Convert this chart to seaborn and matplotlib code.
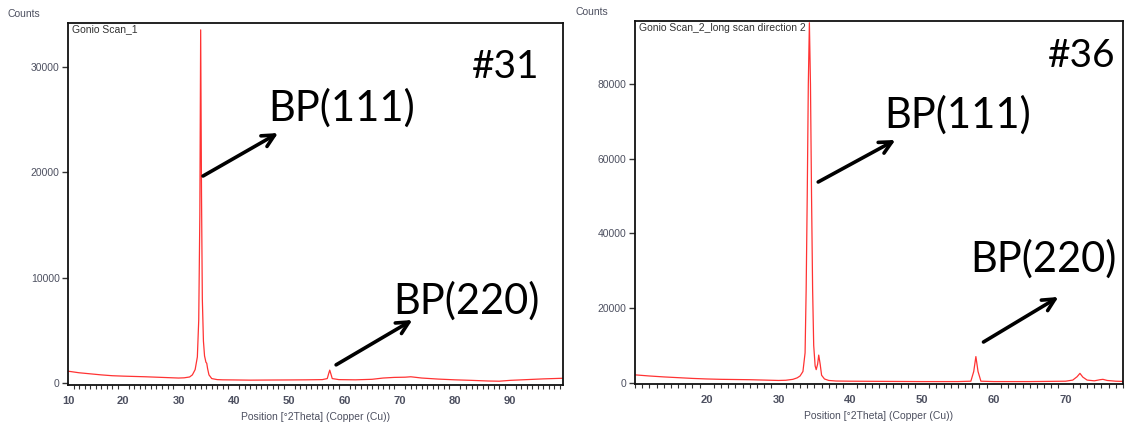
import matplotlib
matplotlib.use("Agg")
import matplotlib.pyplot as plt
from matplotlib.ticker import MultipleLocator, FixedLocator
import seaborn as sns
import pandas as pd

# ---------------- data ----------------
# Panel 1: Gonio Scan_1 (#31)
theta_31 = [10, 12, 14, 16, 18, 20, 22, 24, 26, 28, 30, 31, 32, 32.5, 33.0, 33.4,
            33.65, 33.85, 34.0, 34.15, 34.3, 34.5, 34.7, 34.95, 35.1, 35.25, 35.5,
            36.0, 37, 38, 40, 43, 46, 50, 53, 56, 56.9, 57.2, 57.35, 57.55, 57.8,
            59, 62, 65, 67, 69, 71, 72, 74, 77, 80, 83, 86, 88, 90, 93, 96, 99.6]
counts_31 = [1150, 1000, 900, 800, 720, 680, 650, 620, 580, 540, 500, 520, 600, 800,
             1300, 2500, 6000, 16000, 33500, 18000, 8000, 4000, 2600, 2000, 1900,
             1400, 800, 450, 350, 330, 320, 300, 310, 320, 330, 350, 450, 1000, 1250,
             900, 450, 350, 330, 380, 500, 560, 580, 620, 500, 400, 330, 280, 220,
             200, 280, 350, 420, 480]

# Panel 2: Gonio Scan_2_long scan direction 2 (#36)
theta_36 = [10, 12, 14, 16, 18, 20, 22, 24, 26, 28, 30, 31, 32, 32.6, 33.0, 33.4,
            33.7, 33.85, 34.0, 34.15, 34.3, 34.45, 34.6, 34.75, 34.9, 35.1, 35.25,
            35.45, 35.6, 35.8, 36.0, 36.4, 37, 38, 40, 45, 50, 55, 56.8, 57.2, 57.5,
            57.8, 58.2, 60, 65, 70, 71, 71.6, 72.0, 72.4, 73, 74, 74.8, 75.2, 75.8,
            77, 78]
counts_36 = [2100, 1800, 1550, 1350, 1150, 1000, 900, 850, 800, 700, 600, 650, 900,
             1300, 1800, 3000, 8000, 25000, 50000, 80000, 96500, 80000, 50000, 25000,
             10000, 4500, 3500, 5000, 7400, 5000, 2000, 1000, 600, 450, 400, 350, 300,
             300, 400, 3000, 7000, 3000, 400, 300, 300, 400, 700, 1600, 2500, 1500,
             700, 500, 800, 900, 600, 400, 350]

titles = ["Gonio Scan_1", "Gonio Scan_2_long scan direction 2"]
sample_ids = ["#31", "#36"]
peak_labels = ["BP(111)", "BP(220)"]
xlabel = "Position [°2Theta] (Copper (Cu))"
ylabel = "Counts"

yticks_31 = [0, 10000, 20000, 30000]
yticks_36 = [0, 20000, 40000, 60000, 80000]
xticks_31 = [10, 20, 30, 40, 50, 60, 70, 80, 90]
xticks_36 = [20, 30, 40, 50, 60, 70]

# ---------------- styling ----------------
sns.set_theme(style="white")
plt.rcParams["font.family"] = ["Liberation Sans", "DejaVu Sans"]

LINE = "#ff3333"
TICKC = "#4d5060"
BIG_FONT = ["Lato", "DejaVu Sans"]

fig = plt.figure(figsize=(11.25, 4.32), dpi=100)
ax1 = fig.add_axes([68 / 1125, (432 - 385) / 432, (563.3 - 68) / 1125, (385 - 22.7) / 432])
ax2 = fig.add_axes([635 / 1125, (432 - 384) / 432, (1123 - 635) / 1125, (384 - 20.7) / 432])

df31 = pd.DataFrame({"theta": theta_31, "counts": counts_31})
df36 = pd.DataFrame({"theta": theta_36, "counts": counts_36})
sns.lineplot(data=df31, x="theta", y="counts", ax=ax1, color=LINE, linewidth=0.9,
             estimator=None, sort=False)
sns.lineplot(data=df36, x="theta", y="counts", ax=ax2, color=LINE, linewidth=0.9,
             estimator=None, sort=False)

ax1.set_xlim(10, 99.6)
ax1.set_ylim(-160, 34180)
ax2.set_xlim(10, 78)
ax2.set_ylim(-350, 97050)

for ax, xt, yt, title in [(ax1, xticks_31, yticks_31, titles[0]),
                          (ax2, xticks_36, yticks_36, titles[1])]:
    ax.set_xlabel(xlabel, fontsize=7.5, color=TICKC, labelpad=4)
    ax.set_ylabel("")
    ax.xaxis.set_major_locator(FixedLocator(xt))
    ax.xaxis.set_minor_locator(MultipleLocator(1))
    ax.yaxis.set_major_locator(FixedLocator(yt))
    ax.tick_params(axis="x", which="major", direction="out", length=6, width=1,
                   color="#333333", labelsize=8, labelcolor=TICKC, pad=2)
    ax.tick_params(axis="x", which="minor", direction="out", length=3, width=0.8,
                   color="#333333", bottom=True)
    ax.tick_params(axis="y", which="major", direction="out", length=4, width=1,
                   color="#333333", labelsize=7.5, labelcolor=TICKC, pad=2, left=True)
    for lbl in ax.get_xticklabels():
        lbl.set_fontweight("bold")
    for s in ax.spines.values():
        s.set_color("#111111")
        s.set_linewidth(1.3)
    ax.text(0.008, 0.995, title, transform=ax.transAxes, ha="left", va="top",
            fontsize=7.5, color="#333333")

fig.text(8 / 1125, 1 - 14.3 / 432, ylabel, ha="left", va="center", fontsize=7.5, color=TICKC)
fig.text(575 / 1125, 1 - 11.7 / 432, ylabel, ha="left", va="center", fontsize=7.5, color=TICKC)

# big annotations
txt_kw = dict(fontsize=30, color="black", family=BIG_FONT, ha="left", va="baseline")
ax1.text(46.2, 24860, peak_labels[0], **txt_kw)
ax1.text(68.8, 6570, peak_labels[1], **txt_kw)
ax1.text(83.1, 28940, sample_ids[0], **dict(txt_kw, fontsize=28))
ax2.text(44.74, 68280, peak_labels[0], **txt_kw)
ax2.text(56.74, 29680, peak_labels[1], **txt_kw)
ax2.text(67.5, 84640, sample_ids[1], **dict(txt_kw, fontsize=28))

arr = dict(arrowstyle="->", color="black", lw=2.6, mutation_scale=22, shrinkA=0, shrinkB=0)
ax1.annotate("", xy=(48.0, 23720), xytext=(34.43, 19650), arrowprops=arr)
ax1.annotate("", xy=(72.3, 6000), xytext=(58.5, 1750), arrowprops=arr)
ax2.annotate("", xy=(46.28, 65070), xytext=(35.53, 53810), arrowprops=arr)
ax2.annotate("", xy=(69.0, 22980), xytext=(58.56, 10910), arrowprops=arr)

fig.savefig("out.png", dpi=100)
